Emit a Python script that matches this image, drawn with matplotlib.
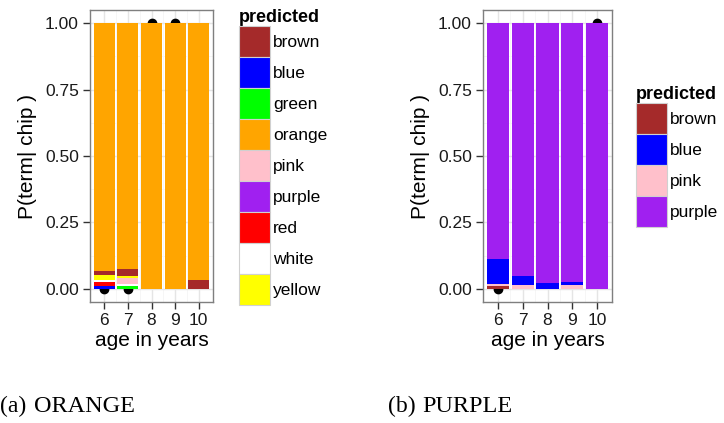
import numpy as np
import matplotlib.pyplot as plt
from matplotlib.patches import Patch

plt.rcParams['font.family'] = ['Liberation Sans', 'DejaVu Sans']

ages = [6, 7, 8, 9, 10]
age_labels = ['6', '7', '8', '9', '10']

# panel (a): ORANGE chips, stacked bottom -> top
orange_stack = ['blue', 'green', 'red', 'white', 'pink', 'yellow', 'brown', 'orange']
orange_vals = {
    'blue':   [0.010, 0.0,    0.0, 0.0, 0.0],
    'green':  [0.0,   0.009,  0.0, 0.0, 0.0],
    'red':    [0.014, 0.0,    0.0, 0.0, 0.0],
    'white':  [0.0075, 0.0075, 0.0, 0.0, 0.0],
    'pink':   [0.0,   0.0225, 0.0, 0.0, 0.0],
    'yellow': [0.021, 0.010,  0.0, 0.0, 0.0],
    'brown':  [0.0125, 0.024, 0.0, 0.0, 0.034],
    'orange': [0.935, 0.927,  1.0, 1.0, 0.966],
}
orange_legend = ['brown', 'blue', 'green', 'orange', 'pink', 'purple', 'red', 'white', 'yellow']
orange_dots_x = [6, 7, 8, 9]
orange_dots_y = [0.0, 0.0, 1.0, 1.0]

# panel (b): PURPLE chips
purple_stack = ['brown', 'pink', 'blue', 'purple']
purple_vals = {
    'brown':  [0.009, 0.0,    0.0,  0.0,   0.0],
    'pink':   [0.0075, 0.0125, 0.0, 0.015, 0.0],
    'blue':   [0.097, 0.036,  0.020, 0.011, 0.0],
    'purple': [0.8865, 0.9515, 0.980, 0.974, 1.0],
}
purple_legend = ['brown', 'blue', 'pink', 'purple']
purple_dots_x = [6, 10]
purple_dots_y = [0.0, 1.0]

colors = {'brown': '#a52a2a', 'blue': '#0000ff', 'green': '#00ff00', 'orange': '#ffa500',
          'pink': '#ffc0cb', 'purple': '#a020f0', 'red': '#ff0000', 'white': '#ffffff',
          'yellow': '#ffff00'}

W, H = 724, 423
fig = plt.figure(figsize=(W / 100, H / 100), dpi=100)


def panel(rect, stack, vals, dx, dy):
    ax = fig.add_axes(rect)
    ax.set_xlim(5.4, 10.6)
    ax.set_ylim(-0.05, 1.05)
    ax.set_xticks(ages)
    ax.set_xticklabels(age_labels)
    ax.set_yticks([0, 0.25, 0.5, 0.75, 1.0])
    ax.set_yticklabels(['0.00', '0.25', '0.50', '0.75', '1.00'])
    ax.set_xticks([6.5, 7.5, 8.5, 9.5], minor=True)
    ax.set_yticks([0.125, 0.375, 0.625, 0.875], minor=True)
    ax.grid(which='major', color='#e5e5e5', lw=1.0, zorder=0)
    ax.grid(which='minor', color='#f5f5f5', lw=0.6, zorder=0)
    ax.set_axisbelow(True)
    ax.plot(dx, dy, 'o', color='black', ms=6, zorder=1)
    bottom = np.zeros(len(ages))
    for c in stack:
        v = np.array(vals[c])
        ax.bar(ages, v, width=0.9, bottom=bottom, color=colors[c], lw=0, zorder=2)
        bottom += v
    for s in ax.spines.values():
        s.set_color('#7f7f7f')
        s.set_linewidth(1.0)
    ax.tick_params(which='major', length=5, width=1.0, color='#333333', labelsize=12.5,
                   labelcolor='#1a1a1a', pad=3)
    ax.tick_params(which='minor', length=0)
    ax.set_xlabel('age in years', fontsize=15, labelpad=2)
    ax.set_ylabel('P(term| chip )', fontsize=15, labelpad=6)
    return ax


panel([90 / W, 1 - 302 / H, 123 / W, 292 / H], orange_stack, orange_vals, orange_dots_x, orange_dots_y)
panel([483 / W, 1 - 302 / H, 129 / W, 292 / H], purple_stack, purple_vals, purple_dots_x, purple_dots_y)


def legend(names, x, y):
    handles = [Patch(facecolor=colors[n], edgecolor='#d0d0d0', lw=0.8) for n in names]
    fig.legend(handles, names, loc='upper left', bbox_to_anchor=(x / W, 1 - y / H),
               frameon=False, title='predicted', alignment='left',
               title_fontproperties={'weight': 'bold', 'size': 13},
               fontsize=12.5, handlelength=1.78, handleheight=2.37,
               labelspacing=0, handletextpad=0.2, borderpad=0, borderaxespad=0)


legend(orange_legend, 239, 9)
legend(purple_legend, 636, 86)

# subcaptions in small caps style
serif = 'Liberation Serif'
fig.text(0 / W, 1 - 412 / H, '(a)', family=serif, fontsize=17, va='baseline')
fig.text(34 / W, 1 - 412 / H, 'ORANGE', family=serif, fontsize=17.5, va='baseline')
fig.text(388 / W, 1 - 412 / H, '(b)', family=serif, fontsize=17, va='baseline')
fig.text(422 / W, 1 - 412 / H, 'PURPLE', family=serif, fontsize=17.5, va='baseline')

fig.savefig('out.png', dpi=100)
